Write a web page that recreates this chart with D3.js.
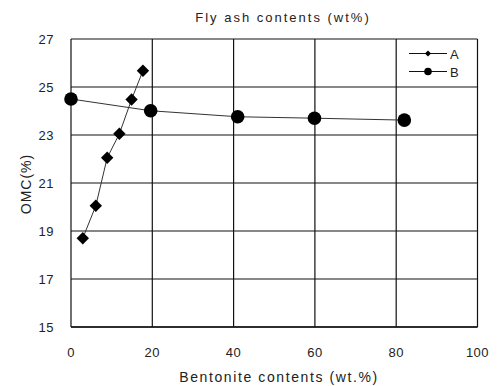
<!DOCTYPE html>
<html>
<head>
<meta charset="utf-8">
<script src="https://cdn.jsdelivr.net/npm/d3@7"></script>
<style>
  body { margin: 0; background: #fff; }
  svg text { font-family: "Liberation Sans", Arial, sans-serif; fill: #222; }
</style>
</head>
<body>
<div id="chart"></div>
<script>
// series A : fly ash (diamonds)
const seriesAx = [2.9, 6.1, 8.9, 11.9, 14.9, 17.7];
const seriesAy = [18.7, 20.05, 22.05, 23.05, 24.48, 25.68];
// series B : bentonite (circles)
const seriesBx = [0, 19.6, 41, 59.9, 82];
const seriesBy = [24.5, 24.01, 23.76, 23.7, 23.62];
const xTicks = [0, 20, 40, 60, 80, 100];
const yTicks = [15, 17, 19, 21, 23, 25, 27];
const legendNames = ["A", "B"];

function createChart(selector) {
    const width = 497, height = 386;
    const margin = {left: 71, right: 20, top: 39, bottom: 59};

    const svg = d3.select(selector).append('svg')
        .attr('width', width).attr('height', height);

    const x = d3.scaleLinear().domain([0, 100]).range([margin.left, width - margin.right + 0.5]);
    const y = d3.scaleLinear().domain([15, 27]).range([height - margin.bottom, margin.top]);

    // grid
    const grid = svg.append('g').attr('stroke', '#111').attr('stroke-width', 1.2);
    grid.selectAll('.gx').data(xTicks).enter().append('line')
        .attr('x1', d => x(d)).attr('x2', d => x(d))
        .attr('y1', y(15)).attr('y2', y(27));
    grid.selectAll('.gy').data(yTicks).enter().append('line')
        .attr('x1', x(0)).attr('x2', x(100))
        .attr('y1', d => y(d)).attr('y2', d => y(d));
    // bottom axis line a bit heavier
    svg.append('line')
        .attr('x1', x(0)).attr('x2', x(100))
        .attr('y1', y(15)).attr('y2', y(15))
        .attr('stroke', '#111').attr('stroke-width', 1.6);

    // tick labels
    svg.append('g').selectAll('text').data(xTicks).enter().append('text')
        .attr('x', d => x(d)).attr('y', y(15) + 30)
        .attr('text-anchor', 'middle')
        .style('font-size', '13px').style('letter-spacing', '0.5px')
        .text(d => d);
    svg.append('g').selectAll('text').data(yTicks).enter().append('text')
        .attr('x', 54).attr('y', d => y(d) + 5)
        .attr('text-anchor', 'end')
        .style('font-size', '13px').style('letter-spacing', '0.5px')
        .text(d => d);

    // titles
    svg.append('text')
        .attr('x', 279).attr('y', 382)
        .attr('text-anchor', 'middle')
        .style('font-size', '14px').style('letter-spacing', '1.6px')
        .text('Bentonite contents (wt.%)');
    svg.append('text')
        .attr('transform', 'translate(31,184) rotate(-90)')
        .attr('text-anchor', 'middle')
        .style('font-size', '14px').style('letter-spacing', '1px')
        .text('OMC(%)');
    svg.append('text')
        .attr('x', 283).attr('y', 22)
        .attr('text-anchor', 'middle')
        .style('font-size', '13px').style('letter-spacing', '2px')
        .text('Fly ash contents (wt%)');

    const line = d3.line().x(d => x(d[0])).y(d => y(d[1]));
    const dataA = seriesAx.map((v, i) => [v, seriesAy[i]]);
    const dataB = seriesBx.map((v, i) => [v, seriesBy[i]]);

    svg.append('path').datum(dataB).attr('d', line)
        .attr('fill', 'none').attr('stroke', '#333').attr('stroke-width', 1);
    svg.append('path').datum(dataA).attr('d', line)
        .attr('fill', 'none').attr('stroke', '#333').attr('stroke-width', 1);

    const diamond = d3.symbol().type(d3.symbolDiamond2).size(98);
    svg.selectAll('.ma').data(dataA).enter().append('path')
        .attr('d', diamond)
        .attr('transform', d => `translate(${x(d[0])},${y(d[1])})`)
        .attr('fill', '#000');
    svg.selectAll('.mb').data(dataB).enter().append('circle')
        .attr('cx', d => x(d[0])).attr('cy', d => y(d[1]))
        .attr('r', 6.8).attr('fill', '#000');

    // legend
    const lg = svg.append('g');
    legendNames.forEach((name, i) => {
        const ly = 53.5 + i * 18;
        lg.append('line').attr('x1', 409).attr('x2', 447)
            .attr('y1', ly).attr('y2', ly)
            .attr('stroke', '#111').attr('stroke-width', 1.2);
        if (i === 0) {
            lg.append('path').attr('d', d3.symbol().type(d3.symbolDiamond2).size(24))
                .attr('transform', `translate(428,${ly})`).attr('fill', '#000');
        } else {
            lg.append('circle').attr('cx', 428).attr('cy', ly).attr('r', 3.8).attr('fill', '#000');
        }
        lg.append('text').attr('x', 450).attr('y', ly + 5)
            .style('font-size', '13px').text(name);
    });
}

createChart('#chart');
</script>
</body>
</html>
